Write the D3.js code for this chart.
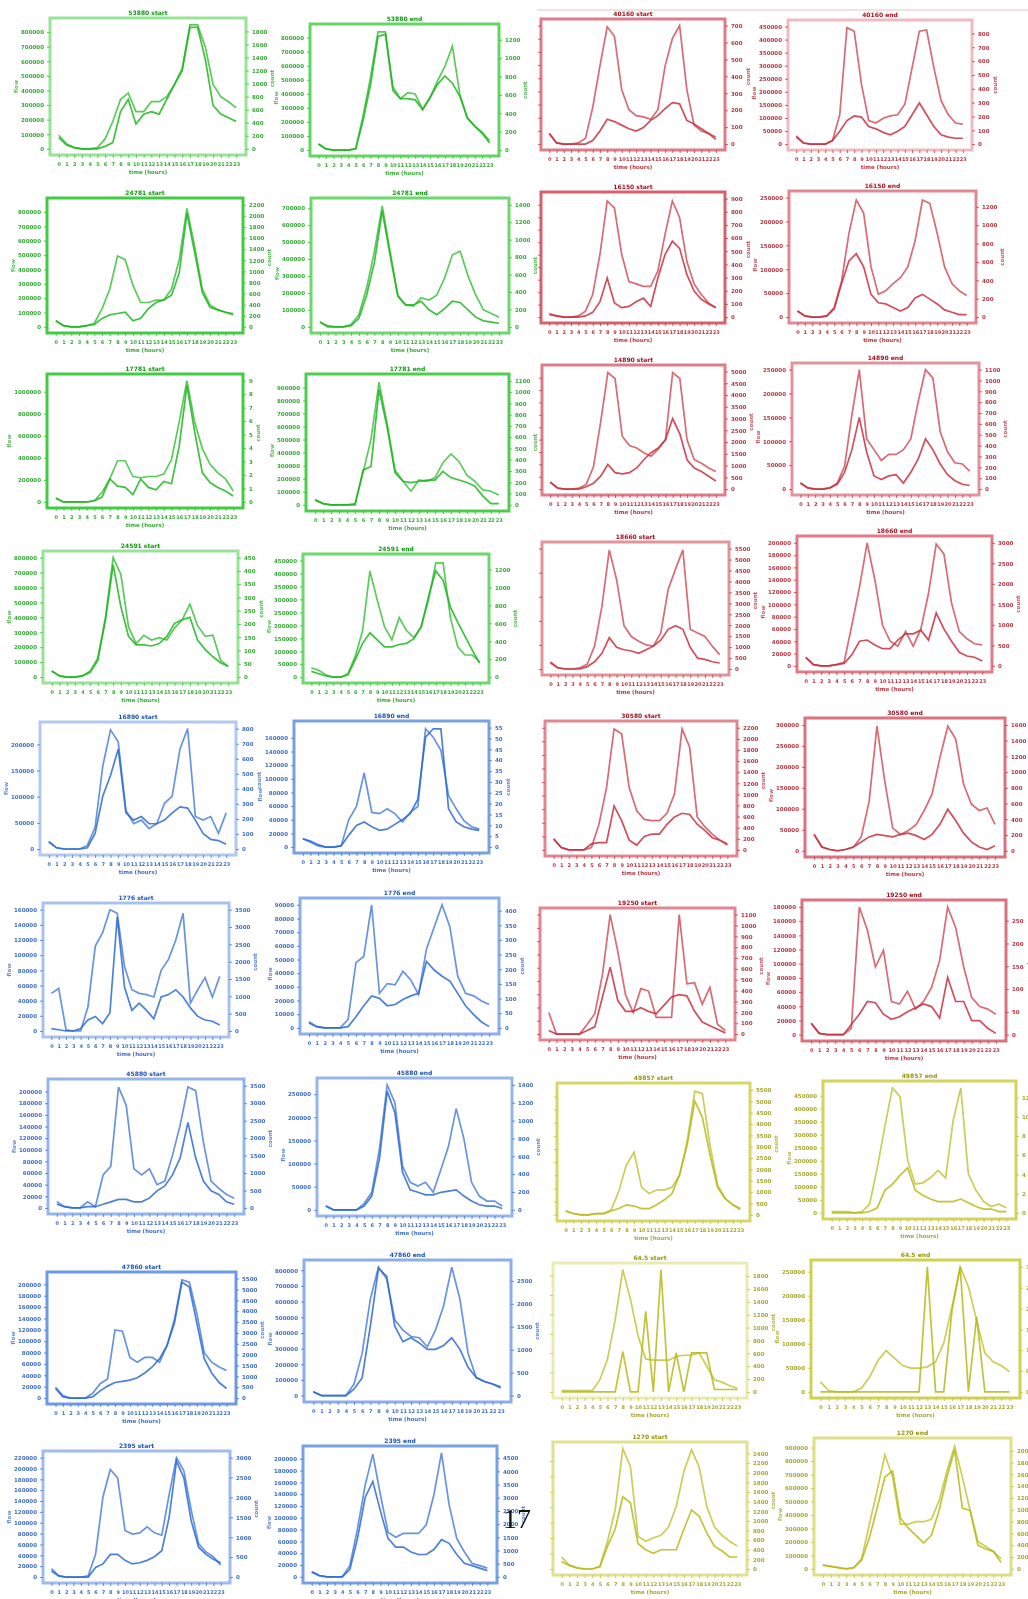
<!DOCTYPE html>
<html>
<head>
<meta charset="utf-8">
<script src="https://d3js.org/d3.v7.min.js"></script>
<style>
  body{margin:0;background:#fff;}
  svg{display:block;}
  .tick text{font-family:"DejaVu Sans",sans-serif;font-weight:bold;}
  .lbl{font-family:"DejaVu Sans",sans-serif;font-weight:bold;}
</style>
</head>
<body>
<svg id="page" width="1028" height="1599"></svg>
<script>
// x categories (hour of day)
var hours = d3.range(24).map(String);

var titles = [
  "53880 start","53880 end","40160 start","40160 end",
  "24781 start","24781 end","16150 start","16150 end",
  "17781 start","17781 end","14890 start","14890 end",
  "24591 start","24591 end","18660 start","18660 end",
  "16890 start","16890 end","30580 start","30580 end",
  "1776 start","1776 end","19250 start","19250 end",
  "45880 start","45880 end","49857 start","49857 end",
  "47860 start","47860 end","64.5 start","64.5 end",
  "2395 start","2395 end","1270 start","1270 end"
];

// axis maxima (left = first series, right = second series)
var peakLeft = [850000,850000,900000,450000,850000,720000,950000,250000,1100000,950000,950000,250000,
  800000,450000,1000000,200000,230000,175000,900000,300000,160000,90000,900000,180000,
  210000,270000,190000,480000,210000,820000,630000,260000,220000,210000,780000,920000];
var peakRight = [1900,1300,700,850,2200,1400,900,1300,9,1100,5000,1100,
  450,1300,5500,3000,800,55,2200,1600,3500,420,1100,280,
  3500,1400,5500,13,5500,2800,1900,3,3000,4700,2500,2100];

// series values, % of axis maximum, one row per panel
var seriesA = [
  [11,4,1,0,0,1,8,22,40,45,30,30,38,38,42,52,65,100,100,82,52,42,38,33],
  [5,1,0,0,0,1,29,61,99,99,53,43,48,47,34,44,58,70,87,47,27,20,15,8],
  [9,1,0,0,1,5,31,66,99,91,46,29,24,23,21,29,66,89,100,46,16,11,9,6],
  [7,1,0,0,0,3,25,99,96,51,20,18,22,24,25,34,65,96,97,65,37,25,18,17],
  [5,1,0,0,1,3,15,31,58,55,34,20,20,22,22,31,55,97,66,31,18,14,12,11],
  [4,1,0,0,2,10,32,62,99,62,26,18,17,24,22,26,40,59,62,42,26,14,11,8],
  [3,1,0,0,1,5,19,53,98,92,53,30,28,26,26,39,70,98,84,47,28,19,12,8],
  [5,1,0,0,1,8,30,70,98,87,42,19,22,28,33,42,64,98,95,70,42,28,22,18],
  [3,0,0,0,0,1,8,19,34,34,21,20,21,21,23,35,66,100,66,44,31,24,19,9],
  [4,1,0,0,0,1,26,53,99,66,28,19,11,20,19,22,34,41,35,24,19,12,11,8],
  [6,1,0,0,1,4,19,57,99,94,45,37,35,31,28,34,42,99,94,42,25,22,18,15],
  [5,1,0,0,1,5,19,62,100,42,33,24,29,29,33,42,73,100,93,48,31,22,21,15],
  [5,1,0,0,1,5,16,50,100,86,42,28,35,31,33,31,41,48,61,43,34,35,14,9],
  [8,6,2,0,0,3,18,40,91,66,43,32,51,40,34,43,66,98,98,51,26,19,19,13],
  [6,1,0,0,1,4,19,52,99,74,36,27,23,20,19,30,66,83,99,33,30,27,19,12],
  [7,1,0,0,1,3,33,64,100,70,33,20,16,28,16,30,59,99,91,51,28,22,18,17],
  [6,1,0,0,0,3,18,69,99,89,32,21,24,17,21,38,44,83,100,27,24,27,13,30],
  [7,4,1,0,0,1,23,34,62,29,28,32,28,21,29,34,99,92,81,43,32,22,17,15],
  [9,2,0,0,0,2,21,51,99,95,51,32,25,24,24,30,46,99,84,27,19,13,8,5],
  [13,3,1,0,1,3,11,39,99,55,18,13,16,21,32,45,74,99,89,53,37,32,34,21],
  [31,35,1,0,0,20,70,81,100,97,53,34,31,30,28,50,59,75,97,23,34,44,28,45],
  [5,1,0,0,0,7,53,58,100,28,36,35,46,39,27,64,82,100,82,42,28,26,22,19],
  [18,0,0,0,0,8,17,50,100,69,33,18,38,36,14,14,14,100,42,43,25,39,8,3],
  [9,1,0,0,0,5,100,82,53,66,26,24,34,20,26,37,58,100,84,53,29,22,20,16],
  [5,1,0,0,5,1,27,34,99,84,32,27,32,19,22,43,68,99,96,54,22,16,11,8],
  [3,0,0,0,0,5,14,49,100,86,35,22,19,22,14,32,51,81,57,22,11,7,7,3],
  [3,1,0,0,1,1,4,19,40,50,22,17,20,20,22,32,59,99,97,56,24,13,8,4],
  [1,1,1,0,1,7,36,69,100,93,42,23,24,28,34,28,74,100,31,18,9,5,7,4],
  [9,2,0,0,0,4,12,16,57,56,34,30,34,34,30,44,66,99,97,71,38,30,26,23],
  [3,0,0,0,0,9,33,75,100,91,59,51,46,45,38,51,70,100,75,33,14,11,9,7],
  [1,1,1,1,1,10,27,59,100,76,46,27,26,26,26,29,30,30,32,21,10,8,5,3],
  [8,1,0,0,0,3,12,25,33,27,21,19,19,20,24,39,68,100,84,57,31,24,21,16],
  [7,1,0,0,0,1,19,67,90,83,39,36,37,42,37,35,69,100,89,56,28,21,17,10],
  [4,1,0,0,0,9,39,74,99,66,36,32,35,35,35,42,66,100,58,31,20,11,9,7],
  [10,3,1,0,0,2,23,49,100,85,27,23,26,28,35,52,81,99,85,52,35,28,23,19],
  [3,2,1,0,1,8,36,63,92,74,36,36,38,38,40,55,79,99,74,47,22,18,14,8]
];
var seriesB = [
  [9,3,1,0,0,0,2,5,30,40,20,28,30,28,40,52,63,98,98,72,35,28,25,22],
  [5,1,0,0,0,1,25,55,95,97,50,43,43,42,34,44,55,62,56,45,27,20,14,6],
  [9,1,0,0,0,0,3,11,21,19,16,13,11,14,20,24,30,35,34,20,17,13,9,4],
  [6,1,0,0,0,3,11,20,24,23,15,13,10,8,11,15,25,35,25,15,8,6,5,5],
  [5,1,0,0,1,2,7,10,11,12,5,7,15,20,22,26,44,93,61,28,16,14,12,10],
  [4,0,0,0,1,7,26,53,95,59,25,18,18,21,14,10,15,21,20,14,8,5,4,3],
  [2,1,0,0,0,1,4,13,33,12,8,9,13,16,9,33,53,64,58,36,22,15,11,8],
  [5,1,0,0,1,7,28,47,53,42,19,12,11,8,5,8,16,19,15,11,6,4,2,2],
  [3,0,0,0,0,1,4,19,13,12,6,19,12,10,17,15,46,96,58,24,16,12,9,5],
  [4,1,0,0,0,0,28,31,93,63,26,19,18,19,20,20,27,22,20,18,15,7,1,1],
  [6,1,0,0,0,2,5,11,21,14,13,14,18,25,31,35,42,60,47,25,18,15,11,7],
  [5,1,0,0,1,4,14,33,60,31,11,8,11,12,5,14,25,42,33,21,12,7,4,3],
  [5,1,0,0,1,4,14,48,94,59,34,27,27,26,28,34,45,48,50,31,23,17,12,9],
  [5,3,1,0,0,2,15,29,38,32,26,26,28,29,33,43,69,91,83,60,47,35,23,12],
  [5,1,0,0,0,2,6,13,26,18,16,15,13,16,19,24,33,36,33,18,9,8,6,5],
  [7,1,0,0,1,2,9,20,21,17,14,14,21,26,26,29,21,43,30,20,11,8,7,4],
  [6,1,0,0,0,1,13,44,61,83,30,24,27,21,21,24,30,35,34,24,13,8,7,4],
  [7,5,2,0,0,1,10,18,21,17,14,15,19,23,28,40,92,99,99,32,21,17,15,14],
  [9,2,0,0,0,5,6,6,36,24,8,4,11,13,13,21,27,30,29,21,16,10,8,4],
  [13,3,1,0,1,3,7,11,13,12,11,13,14,12,9,13,21,33,24,14,7,3,1,4],
  [2,1,0,0,2,9,12,6,15,94,36,17,23,17,10,28,30,34,28,19,12,9,8,5],
  [4,1,0,0,0,1,9,18,26,24,18,19,23,26,28,54,47,42,38,28,18,11,5,1],
  [3,0,0,0,0,3,6,31,56,28,19,19,22,19,17,24,31,33,32,19,10,7,4,1],
  [9,1,0,0,0,8,16,26,25,16,12,14,18,21,24,22,13,45,26,26,11,11,5,1],
  [3,1,0,0,1,1,3,5,7,7,5,5,8,14,18,27,41,70,41,22,14,11,5,3],
  [3,0,0,0,0,3,11,41,95,78,30,16,14,12,12,14,15,16,11,7,4,3,3,1],
  [3,1,0,0,1,1,3,5,8,7,5,5,8,12,17,32,56,91,78,48,22,13,8,5],
  [0,0,0,0,0,1,4,18,23,30,36,18,14,11,9,9,9,11,8,5,3,3,1,1],
  [8,1,0,0,0,1,6,10,13,14,15,17,21,26,33,44,63,97,93,63,33,21,13,8],
  [3,0,0,0,0,5,14,54,99,93,54,42,45,41,36,36,39,45,36,22,14,11,9,6],
  [0,0,0,0,0,0,0,0,33,0,0,66,0,100,0,32,0,32,32,32,2,2,2,2],
  [0,0,0,0,0,0,0,0,0,0,0,0,0,100,0,0,65,100,0,60,0,0,0,0],
  [5,1,0,0,0,0,8,11,19,19,14,11,12,14,17,22,50,97,83,47,25,19,15,12],
  [4,1,0,0,0,6,31,64,77,53,31,24,24,20,18,18,22,30,27,18,11,9,7,5],
  [6,3,1,0,0,2,19,33,60,55,21,16,13,16,16,16,33,49,44,30,19,15,10,10],
  [3,2,1,0,1,7,25,49,74,79,41,33,27,21,27,47,74,96,49,47,19,16,14,5]
];

// panel frames on the page: [left, top, right, bottom]
var frames = [
  [50,18,246,155],[310,24,499,156],[541,19,725,150],[788,20,972,150],
  [47,198,243,333],[311,198,509,333],[541,192,725,323],[789,191,976,323],
  [47,374,243,508],[306,374,509,511],[542,365,725,495],[792,363,979,495],
  [43,551,238,683],[303,554,489,683],[542,542,729,675],[797,536,992,672],
  [40,722,236,855],[294,721,489,853],[545,721,737,856],[805,718,1005,857],
  [43,903,229,1037],[300,898,499,1034],[540,908,735,1040],[802,900,1006,1041],
  [48,1079,244,1214],[317,1078,512,1216],[557,1083,750,1221],[823,1081,1016,1219],
  [47,1272,236,1404],[304,1260,511,1402],[553,1263,747,1398],[811,1260,1020,1398],
  [43,1451,230,1583],[303,1446,497,1583],[553,1442,747,1575],[814,1438,1011,1575]
];
var frameAlpha = [0.5,0.75,0.65,0.35,0.9,0.7,0.8,0.6,0.9,0.85,0.65,0.55,
  0.5,0.7,0.55,0.65,0.4,0.7,0.6,0.7,0.45,0.6,0.6,0.7,
  0.55,0.55,0.7,0.75,0.75,0.6,0.35,0.8,0.5,0.7,0.5,0.55];

var palette = {
  green:  {line:"#1db51d", frame:"#2fc72f", text:"#119a11"},
  red:    {line:"#c83040", frame:"#cc3848", text:"#a81020"},
  blue:   {line:"#2d6ad4", frame:"#3f78da", text:"#1d52b8"},
  yellow: {line:"#b8b818", frame:"#c4c428", text:"#96960a"}
};
function groupOf(i){
  var r = Math.floor(i/4), c = i%4;
  if (c < 2) return r < 4 ? "green" : "blue";
  return r < 6 ? "red" : "yellow";
}

var svg = d3.select("#page");
var defs = svg.append("defs");
defs.append("filter").attr("id","soft")
  .append("feGaussianBlur").attr("stdDeviation",0.45);

var root = svg.append("g").attr("filter","url(#soft)");

// faint rule at the top of the right half
root.append("line")
  .attr("x1",537).attr("x2",1028).attr("y1",10).attr("y2",10)
  .attr("stroke","#f0e2e2").attr("stroke-width",2);

frames.forEach(function(f, i){
  var x0=f[0], y0=f[1], x1=f[2], y1=f[3], w=x1-x0, h=y1-y0;
  var c = i%4;
  var col = palette[groupOf(i)];
  var g = root.append("g");

  var x = d3.scalePoint(hours, [x0 + w*0.045, x1 - w*0.05]);
  var yA = d3.scaleLinear([0, peakLeft[i]], [y1 - h*0.045, y0 + h*0.05]);
  var yB = d3.scaleLinear([0, peakRight[i]], [y1 - h*0.045, y0 + h*0.05]);

  var lineA = d3.line().x(function(d,j){return x(hours[j]);})
      .y(function(d){return yA(d*peakLeft[i]/100);});
  var lineB = d3.line().x(function(d,j){return x(hours[j]);})
      .y(function(d){return yB(d*peakRight[i]/100);});

  // axes (third column shows tick marks only on its left side)
  var leftFmt = c === 2 ? function(){ return ""; } : d3.format("d");
  var ax = g.append("g").attr("transform","translate("+x0+",0)")
    .call(d3.axisLeft(yA).ticks(7).tickSize(3).tickFormat(leftFmt));
  var ay = g.append("g").attr("transform","translate("+x1+",0)")
    .call(d3.axisRight(yB).ticks(8).tickSize(3).tickFormat(d3.format("~g")));
  var axb = g.append("g").attr("transform","translate(0,"+y1+")")
    .call(d3.axisBottom(x).tickSize(3));
  [ax, ay, axb].forEach(function(a){
    a.select(".domain").remove();
    a.selectAll("line").attr("stroke",col.frame).attr("stroke-opacity",0.8);
    a.selectAll("text").attr("fill",col.text).attr("fill-opacity",0.85)
      .attr("font-size",5.5);
  });
  axb.selectAll("text").attr("font-size",5).attr("dy","0.9em");

  // lines
  g.append("path").datum(seriesA[i]).attr("d",lineA)
    .attr("fill","none").attr("stroke",col.line)
    .attr("stroke-width",1.7).attr("stroke-opacity",0.72);
  g.append("path").datum(seriesB[i]).attr("d",lineB)
    .attr("fill","none").attr("stroke",col.line)
    .attr("stroke-width",1.7).attr("stroke-opacity",0.85);

  // frame
  g.append("rect").attr("x",x0).attr("y",y0).attr("width",w).attr("height",h)
    .attr("fill","none").attr("stroke",col.frame)
    .attr("stroke-width",3).attr("stroke-opacity",frameAlpha[i]);

  // texts
  g.append("text").attr("class","lbl")
    .attr("x",(x0+x1)/2).attr("y",y0-3).attr("text-anchor","middle")
    .attr("font-size",6).attr("fill",col.text).text(titles[i]);
  g.append("text").attr("class","lbl")
    .attr("x",(x0+x1)/2).attr("y",y1+19).attr("text-anchor","middle")
    .attr("font-size",5.5).attr("fill",col.text).attr("fill-opacity",0.85)
    .text("time (hours)");

  // side titles sit just outside the tick labels; nudged apart vertically
  // where two panels face each other across a narrow gap
  var midY = (y0+y1)/2;
  if (c !== 2) {
    var lb = ax.node().getBBox();
    var lY = (c === 1 || c === 3) ? midY + 8 : midY;
    g.append("text").attr("class","lbl")
      .attr("transform","translate("+(x0 + lb.x - 3)+","+lY+") rotate(-90)")
      .attr("text-anchor","middle").attr("font-size",5.5)
      .attr("fill",col.text).attr("fill-opacity",0.7).text("flow");
  }
  var rb = ay.node().getBBox();
  var rY = (c === 0 || c === 2) ? midY - 8 : midY;
  g.append("text").attr("class","lbl")
    .attr("transform","translate("+(x1 + rb.x + rb.width + 7)+","+rY+") rotate(-90)")
    .attr("text-anchor","middle").attr("font-size",5.5)
    .attr("fill",col.text).attr("fill-opacity",0.7).text("count");
});

// page number
svg.append("text")
  .attr("x",517).attr("y",1528).attr("text-anchor","middle")
  .attr("font-family","Liberation Serif, serif").attr("font-size",28)
  .attr("fill","#111").text("17");
</script>
</body>
</html>
